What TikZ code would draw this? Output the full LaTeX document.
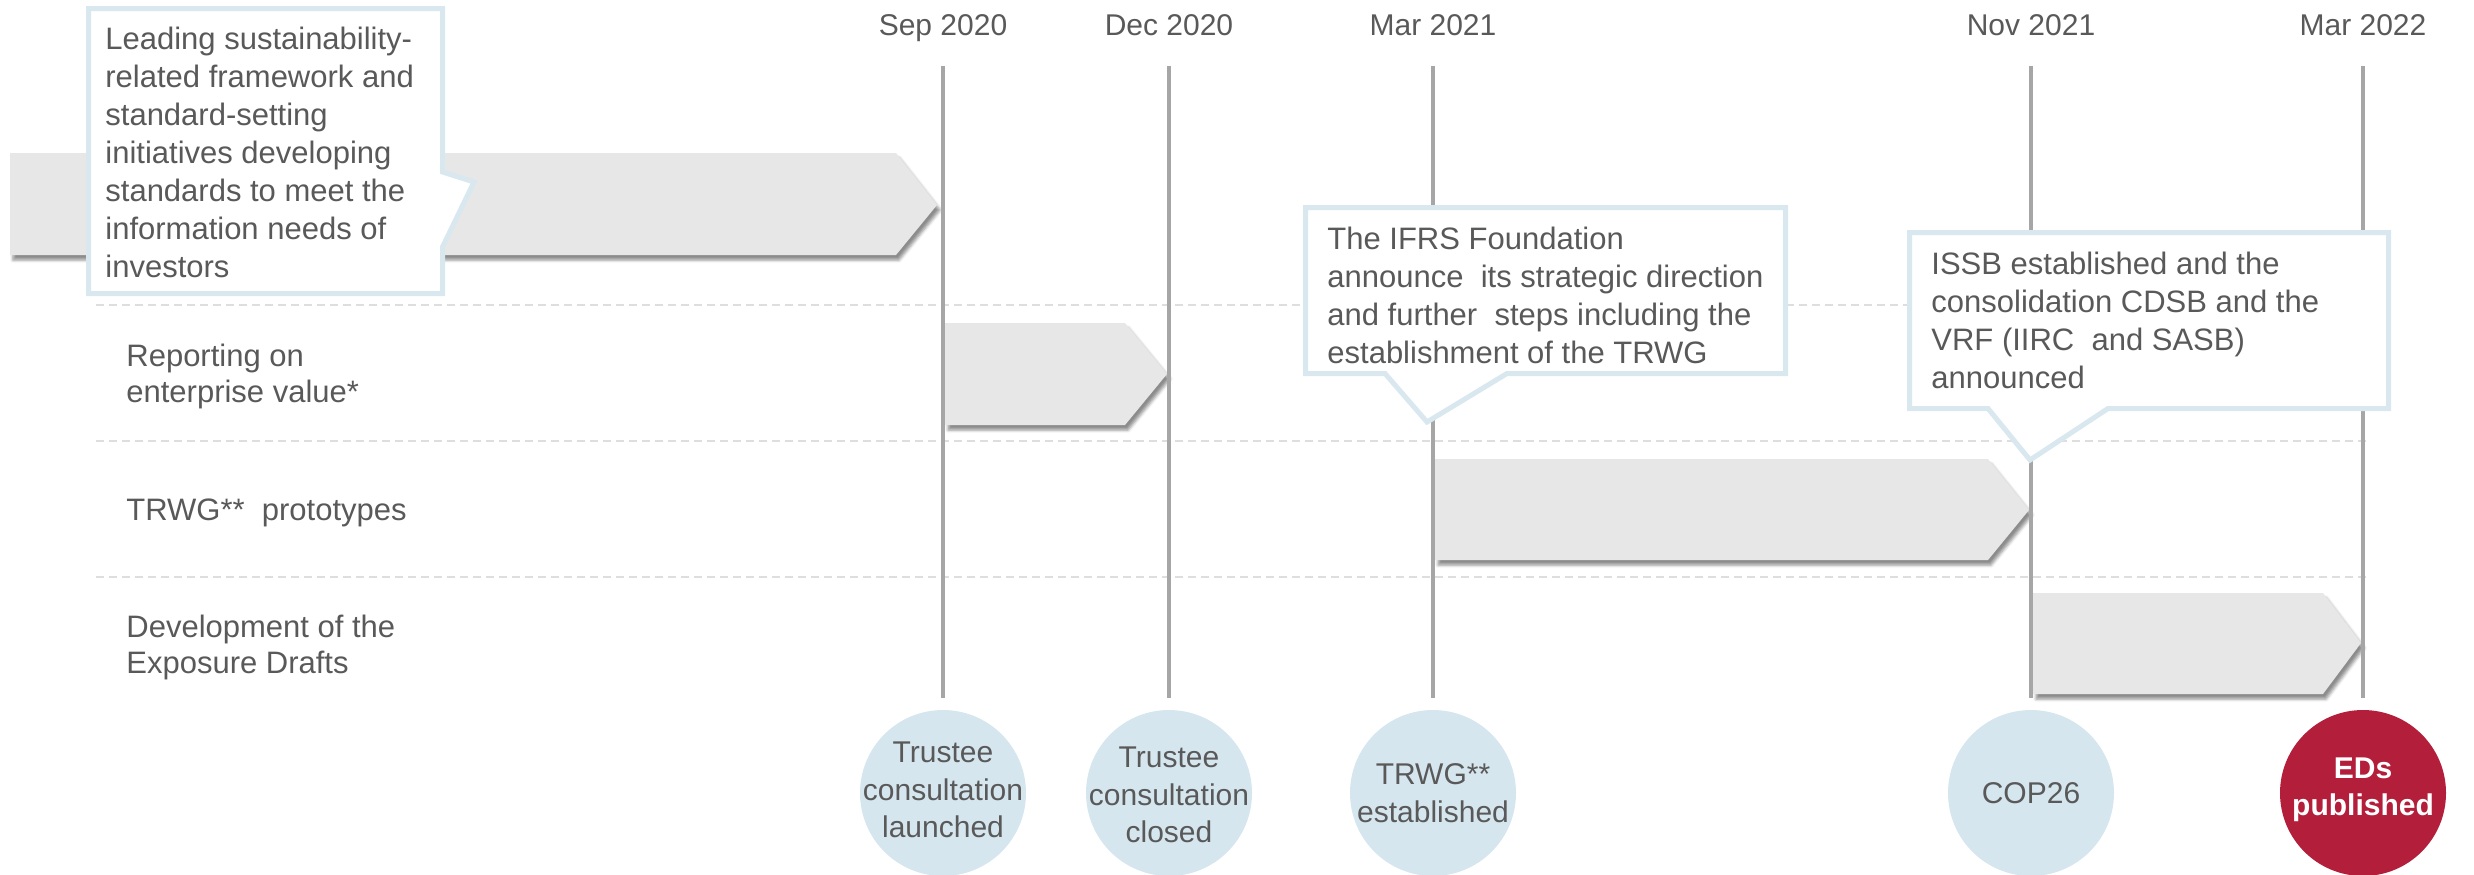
\documentclass[tikz,border=0pt]{standalone}
\usepackage{fontspec}
\setmainfont{Liberation Sans}
\usetikzlibrary{shadows.blur}
\definecolor{txt}{HTML}{595959}
\definecolor{vline}{HTML}{A6A6A6}
\definecolor{dashgray}{HTML}{DEDEDE}
\definecolor{bargray}{HTML}{E7E7E7}
\definecolor{lblue}{HTML}{D6E6EF}
\definecolor{callb}{HTML}{D9E7EF}
\definecolor{edred}{HTML}{B31E3B}
\begin{document}
\begin{tikzpicture}[x=0.5pt,y=-0.5pt,
  every node/.style={text=txt},
  lbl/.style={font=\fontsize{15.5}{18.25}\selectfont, align=left, anchor=north west, inner sep=0pt},
  ctext/.style={font=\fontsize{15.5}{19}\selectfont, align=left, anchor=north west, inner sep=0pt},
  datelbl/.style={font=\fontsize{15}{18}\selectfont, anchor=base, inner sep=0pt},
  bar/.style={fill=bargray, blur shadow={shadow xshift=1.5pt, shadow yshift=-2.5pt, shadow blur radius=1.5pt, shadow opacity=45}},
  timeline/.style={draw=vline, line width=1.75pt},
  rowsep/.style={draw=dashgray, line width=1pt, dash pattern=on 4pt off 2.5pt},
  callout/.style={draw=callb, line width=2.5pt, fill=white, line join=miter},
  milestone/.style={circle, fill=lblue, minimum size=83pt, inner sep=0pt},
  mtext/.style={align=center, inner sep=0pt, font=\fontsize{15}{18.75}\selectfont},
]
\useasboundingbox (0,0) rectangle (2474,874);

% row separators
\draw[rowsep] (96,305) -- (2366,305);
\draw[rowsep] (96,441) -- (2366,441);
\draw[rowsep] (96,577) -- (2366,577);

% bars
\path[bar] (10,153) -- (896,153) -- (937,205) -- (896,255) -- (10,255) -- cycle;
\path[bar] (945,323) -- (1125,323) -- (1167,374) -- (1125,425) -- (945,425) -- cycle;
\path[bar] (1435,459) -- (1988,459) -- (2029,510) -- (1988,560) -- (1435,560) -- cycle;
\path[bar] (2033,593) -- (2323,593) -- (2361,643) -- (2323,694) -- (2033,694) -- cycle;

% date labels
\node[datelbl] (d1) at (943,35) {Sep 2020};
\node[datelbl] (d2) at (1169,35) {Dec 2020};
\node[datelbl] (d3) at (1433,35) {Mar 2021};
\node[datelbl] (d4) at (2031,35) {Nov 2021};
\node[datelbl] (d5) at (2363,35) {Mar 2022};

% milestones
\node[milestone] (c1) at (943,793) {};
\node[milestone] (c2) at (1169,793) {};
\node[milestone] (c3) at (1433,793) {};
\node[milestone] (c4) at (2031,793) {};
\node[milestone, fill=edred] (c5) at (2363,793) {};
\node[mtext] (m1) at (943,790) {Trustee\\consultation\\launched};
\node[mtext] (m2) at (1169,795) {Trustee\\consultation\\closed};
\node[mtext] (m3) at (1433,793) {TRWG**\\established};
\node[mtext] (m4) at (2031,793) {COP26};
\node[mtext, text=white, font=\fontsize{15}{18.75}\selectfont\bfseries] (m5) at (2363,790) {EDs\\published};

% timeline connectors
\coordinate (t1) at (943,66);
\coordinate (t2) at (1169,66);
\coordinate (t3) at (1433,66);
\coordinate (t4) at (2031,66);
\coordinate (t5) at (2363,66);
\draw[timeline] (t1) -- ([yshift=6pt]c1.north);
\draw[timeline] (t2) -- ([yshift=6pt]c2.north);
\draw[timeline] (t3) -- ([yshift=6pt]c3.north);
\draw[timeline] (t4) -- ([yshift=6pt]c4.north);
\draw[timeline] (t5) -- ([yshift=6pt]c5.north);

% callouts
\draw[callout] (88.5,8.5) -- (442.5,8.5) -- (442.5,172) -- (474,182) -- (442.5,247) -- (442.5,293.5) -- (88.5,293.5) -- cycle;
\draw[callout] (1305.5,207.5) -- (1785.5,207.5) -- (1785.5,373.5) -- (1507,373.5) -- (1427,422) -- (1385,373.5) -- (1305.5,373.5) -- cycle;
\draw[callout] (1909.5,232.5) -- (2388.5,232.5) -- (2388.5,408.5) -- (2108,408.5) -- (2030,460) -- (1988,408.5) -- (1909.5,408.5) -- cycle;

\node[ctext] (k1) at (105,26.5) {Leading sustainability-\\related framework and\\standard-setting\\initiatives developing\\standards to meet the\\information needs of\\investors};
\node[ctext] (k2) at (1327,226.5) {The IFRS Foundation\\announce\ \ its strategic direction\\and further\ \ steps including the\\establishment\ of the TRWG};
\node[ctext] (k3) at (1931,251.5) {ISSB established and the\\consolidation CDSB and the\\VRF (IIRC\ \ and SASB)\\announced};

% row labels
\node[lbl] (r1) at (126,343.5) {Reporting on\\enterprise value*};
\node[lbl] (r2) at (126,498.5) {TRWG**\ \ prototypes};
\node[lbl] (r3) at (126,614.5) {Development of the\\Exposure Drafts};
\end{tikzpicture}
\end{document}
